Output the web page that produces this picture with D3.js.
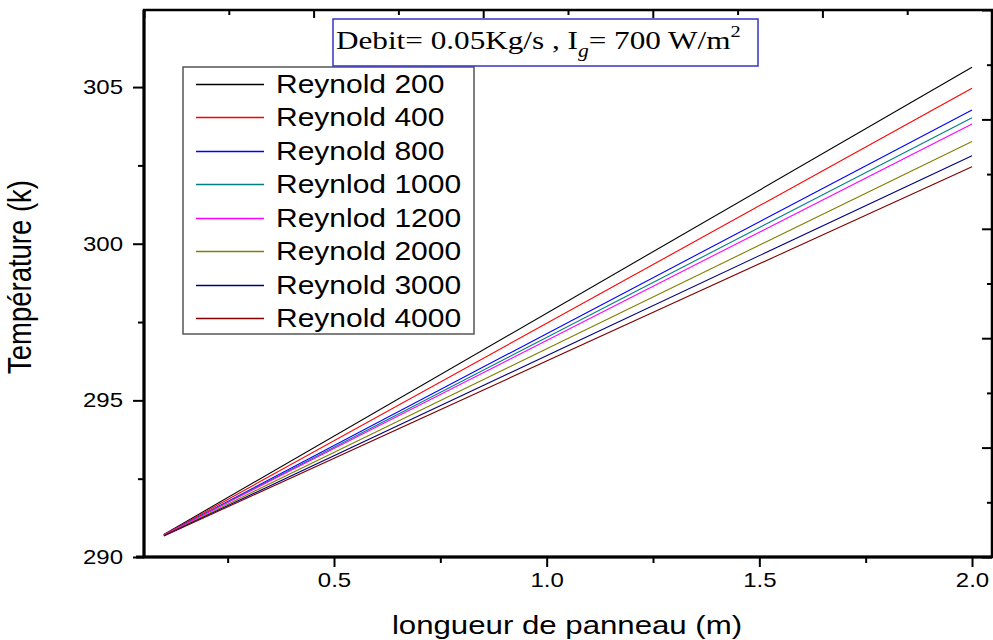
<!DOCTYPE html>
<html lang="fr">
<head>
<meta charset="UTF-8">
<title>Température vs longueur de panneau</title>
<script src="https://d3js.org/d3.v7.min.js"></script>
<style>
  body { margin: 0; background: #fff; }
  svg { display: block; }
  .sans { font-family: "Liberation Sans", Arial, sans-serif; fill: #000; }
  .serif { font-family: "Liberation Serif", "Times New Roman", serif; fill: #000; }
</style>
</head>
<body>
<svg id="chart" width="993" height="640"></svg>
<script>
// data
const seriesNames = ["Reynold 200", "Reynold 400", "Reynold 800", "Reynlod 1000",
                     "Reynlod 1200", "Reynold 2000", "Reynold 3000", "Reynold 4000"];
const seriesColors = ["#000000", "#ff0000", "#0000ff", "#008080",
                      "#ff00ff", "#808000", "#000080", "#800000"];
const xPoints = [0.1, 2.0];
const tempStart = [290.72, 290.71, 290.70, 290.70, 290.70, 290.69, 290.68, 290.67];
const tempEnd = [305.63, 304.96, 304.27, 304.02, 303.82, 303.26, 302.81, 302.46];
const xTicks = [0.5, 1.0, 1.5, 2.0];
const xMinor = [0.25, 0.75, 1.25, 1.75];
const yTicks = [290, 295, 300, 305];
const yMinor = [292.5, 297.5, 302.5];

const stretch = 1.2; // the picture is widened horizontally
const svg = d3.select('#chart');
const pLeft = 144, pRight = 992, pTop = 10, pBottom = 557;

const x = d3.scaleLinear().domain([0.0533, 2.047]).range([pLeft, pRight]);
const y = d3.scaleLinear().domain([290, 307.46]).range([pBottom, pTop]);
// mirrored frame axes (ticks only)
const xTop = d3.scaleLinear().domain([0, 5]).range([pLeft, pRight]);
const yRight = d3.scaleLinear().domain([0, 5]).range([pBottom, pTop]);

function widen(sel) {
  sel.each(function () {
    const t = d3.select(this);
    const tx = +t.attr('x') || 0;
    t.attr('x', 0).attr('transform', `translate(${tx},0) scale(${stretch},1)`);
  });
}

// lines
const line = d3.line().x(d => x(d[0])).y(d => y(d[1]));
seriesNames.forEach((name, i) => {
  const pts = xPoints.map((xv, j) => [xv, j === 0 ? tempStart[i] : tempEnd[i]]);
  svg.append('path')
    .attr('d', line(pts))
    .attr('fill', 'none')
    .attr('stroke', seriesColors[i])
    .attr('stroke-width', 1.1);
});

// bottom axis
const gx = svg.append('g').attr('transform', `translate(0,${pBottom})`)
  .call(d3.axisBottom(x).tickValues(xTicks).tickFormat(d3.format('.1f'))
    .tickSize(10).tickPadding(6));
gx.append('g').call(d3.axisBottom(x).tickValues(xMinor).tickFormat('').tickSize(6));
gx.selectAll('text').attr('class', 'sans').style('font-size', '20px').attr('fill', '#000');
widen(gx.selectAll('.tick text'));

// left axis
const gy = svg.append('g').attr('transform', `translate(${pLeft},0)`)
  .call(d3.axisLeft(y).tickValues(yTicks).tickFormat(d3.format('d'))
    .tickSize(11).tickPadding(10));
gy.append('g').call(d3.axisLeft(y).tickValues(yMinor).tickFormat('').tickSize(6));
gy.selectAll('text').attr('class', 'sans').style('font-size', '20px').attr('fill', '#000');
widen(gy.selectAll('.tick text'));

// top & right frame ticks (inward)
const gt = svg.append('g').attr('transform', `translate(0,${pTop})`)
  .call(d3.axisBottom(xTop).ticks(5).tickFormat('').tickSize(8));
gt.append('g').call(d3.axisBottom(xTop).tickValues([0.5, 1.5, 2.5, 3.5, 4.5]).tickFormat('').tickSize(5));
const gr = svg.append('g').attr('transform', `translate(${pRight},0)`)
  .call(d3.axisLeft(yRight).ticks(5).tickFormat('').tickSize(10));
gr.append('g').call(d3.axisLeft(yRight).tickValues([0.5, 1.5, 2.5, 3.5, 4.5]).tickFormat('').tickSize(5));

[gx, gy, gt, gr].forEach(g => {
  g.selectAll('.domain').remove();
  g.selectAll('line').attr('stroke', '#000').attr('stroke-width', 2);
});

// frame
svg.append('rect')
  .attr('x', pLeft).attr('y', pTop)
  .attr('width', pRight - pLeft).attr('height', pBottom - pTop)
  .attr('fill', 'none').attr('stroke', '#000').attr('stroke-width', 2.5);
svg.append('line').attr('x1', pLeft).attr('x2', pLeft).attr('y1', pTop).attr('y2', pBottom)
  .attr('stroke', '#000').attr('stroke-width', 3);
svg.append('line').attr('x1', pLeft - 8).attr('x2', pRight).attr('y1', pBottom).attr('y2', pBottom)
  .attr('stroke', '#000').attr('stroke-width', 3);

// axis titles
svg.append('text').attr('class', 'sans')
  .attr('transform', `translate(567,634) scale(${stretch},1)`)
  .attr('text-anchor', 'middle').style('font-size', '26px')
  .text('longueur de panneau (m)');
svg.append('text').attr('class', 'sans')
  .attr('transform', `translate(31,277) scale(${stretch},1) rotate(-90)`)
  .attr('text-anchor', 'middle').style('font-size', '27.5px')
  .text('Température (k)');

// legend
const legend = svg.append('g');
legend.append('rect')
  .attr('x', 183).attr('y', 67).attr('width', 291).attr('height', 267)
  .attr('fill', '#fff').attr('stroke', '#555').attr('stroke-width', 1.5);
const rowY = d3.scalePoint().domain(seriesNames).range([84, 318]);
seriesNames.forEach((name, i) => {
  const ry = Math.round(rowY(name));
  legend.append('line')
    .attr('x1', 196).attr('x2', 264).attr('y1', ry + 0.5).attr('y2', ry + 0.5)
    .attr('stroke', seriesColors[i]).attr('stroke-width', 1.3);
  legend.append('text').attr('class', 'sans')
    .attr('transform', `translate(276,${ry + 9}) scale(${stretch},1)`)
    .style('font-size', '25px')
    .text(name);
});

// title box
svg.append('rect')
  .attr('x', 333).attr('y', 19).attr('width', 425).attr('height', 47)
  .attr('fill', '#fff').attr('stroke', '#3333cc').attr('stroke-width', 1.5);
const title = svg.append('text').attr('class', 'serif')
  .attr('transform', `translate(336,49) scale(${stretch},1)`)
  .style('font-size', '26px');
title.append('tspan').text('Debit= 0.05Kg/s ,  I');
title.append('tspan').attr('dy', 8).style('font-size', '18px').style('font-style', 'italic').text('g');
title.append('tspan').attr('dy', -8).text('= 700 W/m');
title.append('tspan').attr('dy', -12).style('font-size', '17px').text('2');
</script>
</body>
</html>
